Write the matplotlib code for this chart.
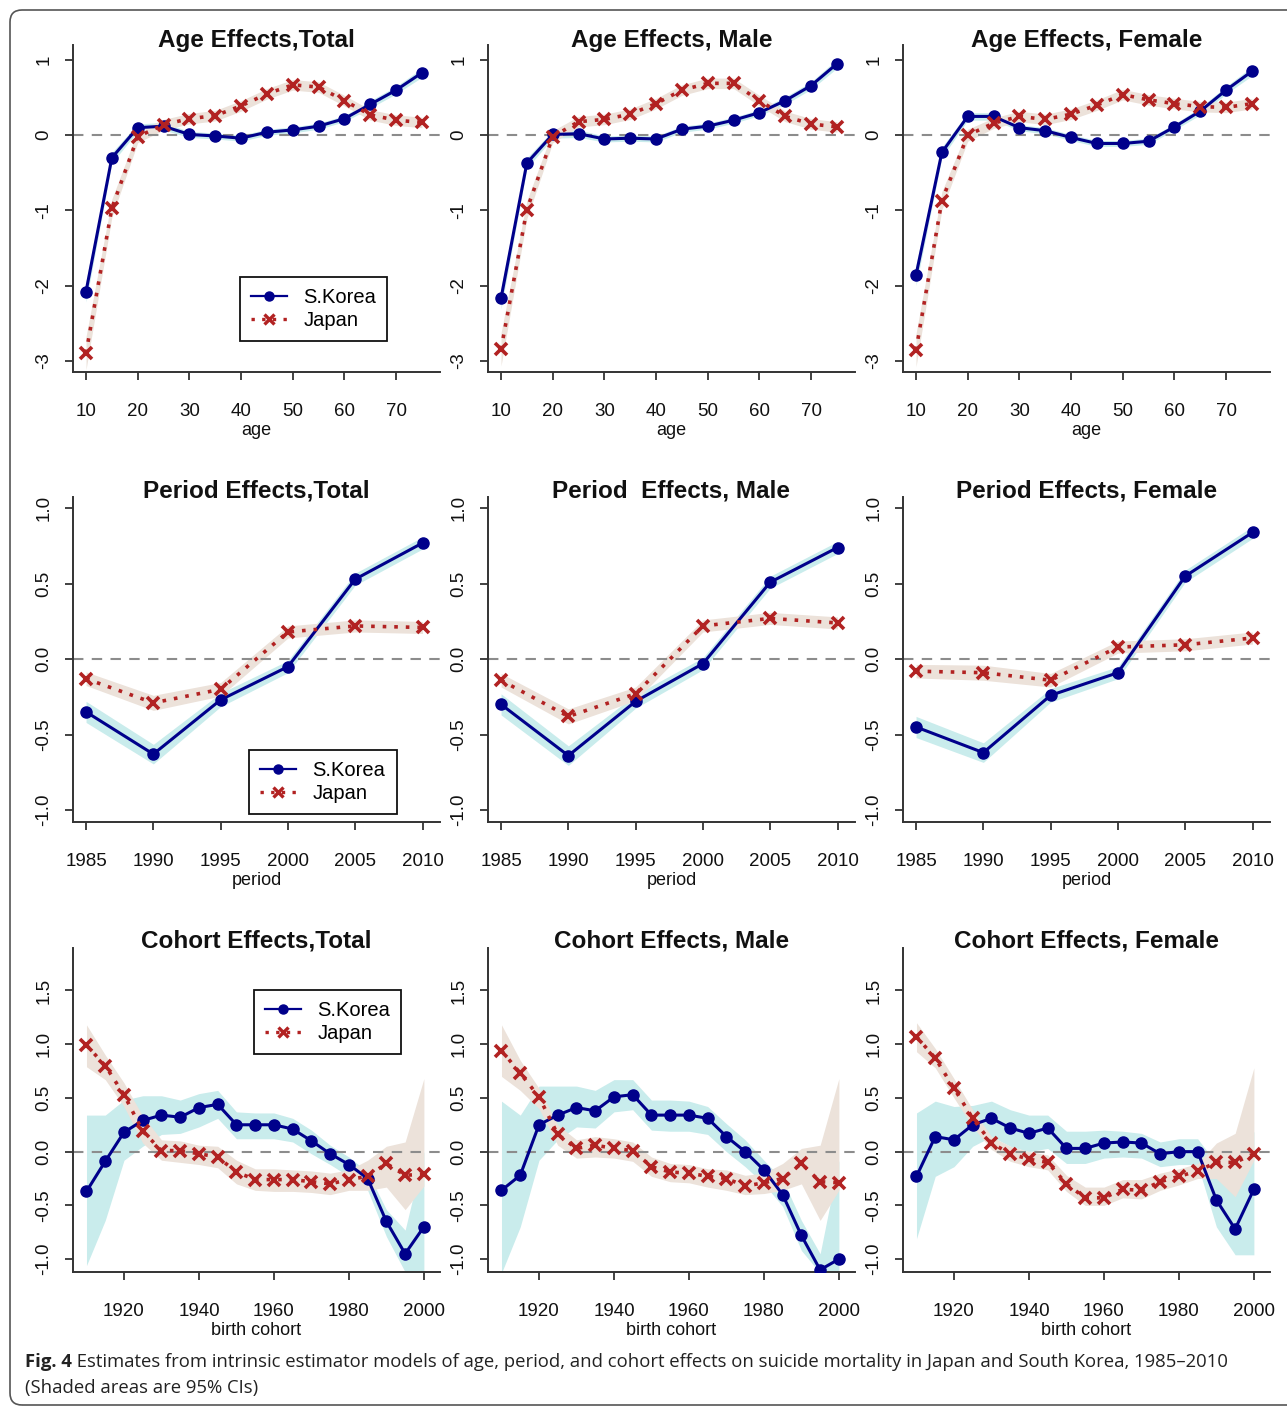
import matplotlib
matplotlib.use("Agg")
import matplotlib.pyplot as plt
from matplotlib.patches import FancyBboxPatch
from matplotlib.transforms import IdentityTransform
from matplotlib.lines import Line2D
import numpy as np

plt.rcParams['font.family'] = ['Liberation Sans', 'DejaVu Sans']
plt.rcParams['axes.unicode_minus'] = False

# ---------------- data ----------------
age = [10, 15, 20, 25, 30, 35, 40, 45, 50, 55, 60, 65, 70, 75]
age_total_kor = [-2.08, -0.30, 0.10, 0.12, 0.01, -0.01, -0.04, 0.04, 0.07, 0.12, 0.22, 0.41, 0.60, 0.83]
age_total_jpn = [-2.90, -0.97, -0.02, 0.14, 0.22, 0.26, 0.39, 0.55, 0.67, 0.64, 0.46, 0.27, 0.20, 0.17]
age_male_kor = [-2.17, -0.37, 0.01, 0.02, -0.05, -0.04, -0.05, 0.08, 0.12, 0.20, 0.30, 0.46, 0.66, 0.95]
age_male_jpn = [-2.85, -0.99, -0.02, 0.18, 0.21, 0.28, 0.42, 0.60, 0.69, 0.69, 0.46, 0.25, 0.15, 0.11]
age_female_kor = [-1.86, -0.23, 0.25, 0.25, 0.10, 0.06, -0.03, -0.11, -0.11, -0.08, 0.11, 0.32, 0.60, 0.85]
age_female_jpn = [-2.86, -0.87, 0.00, 0.16, 0.25, 0.21, 0.28, 0.40, 0.54, 0.47, 0.42, 0.38, 0.37, 0.42]
age_ci_kor = [0.14, 0.07, 0.05, 0.05, 0.04, 0.04, 0.04, 0.04, 0.04, 0.04, 0.04, 0.05, 0.05, 0.06]
age_ci_jpn = [0.22, 0.12, 0.08, 0.07, 0.07, 0.07, 0.07, 0.07, 0.07, 0.07, 0.07, 0.07, 0.07, 0.07]

period = [1985, 1990, 1995, 2000, 2005, 2010]
per_total_kor = [-0.35, -0.63, -0.27, -0.05, 0.53, 0.77]
per_total_jpn = [-0.13, -0.29, -0.20, 0.18, 0.22, 0.21]
per_male_kor = [-0.30, -0.64, -0.28, -0.03, 0.51, 0.74]
per_male_jpn = [-0.14, -0.38, -0.23, 0.22, 0.27, 0.24]
per_female_kor = [-0.45, -0.62, -0.24, -0.09, 0.55, 0.84]
per_female_jpn = [-0.08, -0.09, -0.14, 0.08, 0.095, 0.14]
per_ci_kor = [0.07, 0.065, 0.045, 0.04, 0.04, 0.04]
per_ci_jpn = [0.045, 0.05, 0.045, 0.04, 0.04, 0.04]

cohort = [1910, 1915, 1920, 1925, 1930, 1935, 1940, 1945, 1950, 1955,
          1960, 1965, 1970, 1975, 1980, 1985, 1990, 1995, 2000]
coh_total_kor = [-0.37, -0.09, 0.18, 0.29, 0.34, 0.32, 0.41, 0.44, 0.25, 0.25, 0.25, 0.21, 0.10, -0.02, -0.12, -0.25, -0.65, -0.95, -0.70]
coh_total_kor_lo = [-1.06, -0.64, -0.08, 0.05, 0.16, 0.17, 0.23, 0.31, 0.12, 0.12, 0.12, 0.09, -0.02, -0.12, -0.23, -0.36, -0.79, -1.12, -1.12]
coh_total_kor_hi = [0.34, 0.34, 0.48, 0.52, 0.52, 0.48, 0.54, 0.57, 0.37, 0.36, 0.36, 0.31, 0.20, 0.06, -0.05, -0.19, -0.54, -0.73, 0.00]
coh_total_jpn = [0.99, 0.80, 0.53, 0.19, 0.01, 0.01, -0.02, -0.05, -0.19, -0.26, -0.26, -0.26, -0.28, -0.30, -0.26, -0.23, -0.11, -0.22, -0.21]
coh_total_jpn_lo = [0.79, 0.67, 0.42, 0.08, -0.08, -0.10, -0.12, -0.15, -0.30, -0.36, -0.37, -0.37, -0.38, -0.40, -0.36, -0.36, -0.33, -0.54, -0.32]
coh_total_jpn_hi = [1.18, 0.90, 0.64, 0.33, 0.11, 0.10, 0.06, 0.05, -0.08, -0.16, -0.16, -0.17, -0.18, -0.20, -0.17, -0.08, 0.05, 0.09, 0.68]

coh_male_kor = [-0.36, -0.22, 0.25, 0.34, 0.41, 0.38, 0.51, 0.53, 0.34, 0.34, 0.34, 0.31, 0.14, 0.00, -0.17, -0.40, -0.78, -1.10, -1.00]
coh_male_kor_lo = [-1.13, -0.70, -0.08, 0.11, 0.23, 0.22, 0.37, 0.39, 0.20, 0.19, 0.19, 0.16, 0.00, -0.14, -0.30, -0.51, -0.92, -1.13, -1.13]
coh_male_kor_hi = [0.47, 0.34, 0.61, 0.61, 0.61, 0.57, 0.67, 0.67, 0.48, 0.48, 0.47, 0.42, 0.26, 0.11, -0.08, -0.26, -0.64, -0.95, -0.08]
coh_male_jpn = [0.94, 0.73, 0.51, 0.16, 0.03, 0.06, 0.03, 0.01, -0.14, -0.19, -0.20, -0.23, -0.25, -0.32, -0.29, -0.25, -0.11, -0.28, -0.29]
coh_male_jpn_lo = [0.70, 0.57, 0.40, 0.06, -0.06, -0.05, -0.06, -0.09, -0.23, -0.28, -0.29, -0.33, -0.36, -0.40, -0.39, -0.36, -0.30, -0.64, -0.36]
coh_male_jpn_hi = [1.18, 0.85, 0.59, 0.25, 0.11, 0.14, 0.12, 0.09, -0.05, -0.11, -0.12, -0.16, -0.17, -0.22, -0.20, -0.11, 0.03, 0.06, 0.68]

coh_female_kor = [-0.23, 0.14, 0.11, 0.25, 0.31, 0.22, 0.17, 0.22, 0.03, 0.03, 0.08, 0.09, 0.08, -0.02, 0.00, 0.00, -0.45, -0.72, -0.35]
coh_female_kor_lo = [-0.81, -0.23, -0.14, 0.05, 0.14, 0.05, 0.00, 0.03, -0.11, -0.11, -0.06, -0.05, -0.06, -0.14, -0.12, -0.12, -0.70, -0.96, -0.96]
coh_female_kor_hi = [0.36, 0.47, 0.42, 0.43, 0.47, 0.39, 0.34, 0.34, 0.19, 0.19, 0.20, 0.19, 0.17, 0.09, 0.12, 0.12, -0.11, -0.36, 0.19]
coh_female_jpn = [1.07, 0.87, 0.59, 0.31, 0.08, -0.02, -0.07, -0.10, -0.30, -0.43, -0.43, -0.35, -0.36, -0.28, -0.23, -0.18, -0.10, -0.10, -0.02]
coh_female_jpn_lo = [0.93, 0.78, 0.50, 0.23, 0.02, -0.09, -0.14, -0.17, -0.37, -0.50, -0.50, -0.43, -0.44, -0.36, -0.31, -0.25, -0.25, -0.42, -0.08]
coh_female_jpn_hi = [1.20, 0.96, 0.68, 0.39, 0.14, 0.05, 0.00, -0.03, -0.22, -0.33, -0.33, -0.26, -0.26, -0.20, -0.16, -0.11, 0.08, 0.17, 0.78]

titles = [["Age Effects,Total", "Age Effects, Male", "Age Effects, Female"],
          ["Period Effects,Total", "Period  Effects, Male", "Period Effects, Female"],
          ["Cohort Effects,Total", "Cohort Effects, Male", "Cohort Effects, Female"]]
xlabels = ["age", "period", "birth cohort"]
series_names = ["S.Korea", "Japan"]
caption_bold = "Fig. 4"
caption_rest = (" Estimates from intrinsic estimator models of age, period, and cohort effects "
                "on suicide mortality in Japan and South Korea, 1985\u20132010")
caption_line2 = "(Shaded areas are 95% CIs)"

# ---------------- style ----------------
KOR = '#00008B'
JPN = '#B22222'
KOR_BAND = '#c9ecec'
JPN_BAND = '#ece2da'

W, H = 1287, 1408
fig = plt.figure(figsize=(W / 100, H / 100), dpi=100)

col_px = [(73, 440), (488, 855), (903, 1270)]
row_px = [(45, 372), (497, 822), (948, 1272)]
title_y = [0.985, 0.989, 0.994]

row_cfg = [
    dict(xlim=(7.48, 78.5), ylim=(-3.15, 1.2), xticks=[10, 20, 30, 40, 50, 60, 70],
         yticks=[1, 0, -1, -2, -3], ylabels=["1", "0", "-1", "-2", "-3"]),
    dict(xlim=(1984.03, 2011.3), ylim=(-1.08, 1.075), xticks=period,
         yticks=[1.0, 0.5, 0.0, -0.5, -1.0], ylabels=["1.0", "0.5", "0.0", "-0.5", "-1.0"]),
    dict(xlim=(1906.4, 2004.3), ylim=(-1.12, 1.895), xticks=[1920, 1940, 1960, 1980, 2000],
         yticks=[1.5, 1.0, 0.5, 0.0, -0.5, -1.0], ylabels=["1.5", "1.0", "0.5", "0.0", "-0.5", "-1.0"]),
]

def sym_band(vals, hw):
    v = np.array(vals); h = np.array(hw)
    return v - h, v + h

panels = [
    [(age, age_total_kor, sym_band(age_total_kor, age_ci_kor), age_total_jpn, sym_band(age_total_jpn, age_ci_jpn)),
     (age, age_male_kor, sym_band(age_male_kor, age_ci_kor), age_male_jpn, sym_band(age_male_jpn, age_ci_jpn)),
     (age, age_female_kor, sym_band(age_female_kor, age_ci_kor), age_female_jpn, sym_band(age_female_jpn, age_ci_jpn))],
    [(period, per_total_kor, sym_band(per_total_kor, per_ci_kor), per_total_jpn, sym_band(per_total_jpn, per_ci_jpn)),
     (period, per_male_kor, sym_band(per_male_kor, per_ci_kor), per_male_jpn, sym_band(per_male_jpn, per_ci_jpn)),
     (period, per_female_kor, sym_band(per_female_kor, per_ci_kor), per_female_jpn, sym_band(per_female_jpn, per_ci_jpn))],
    [(cohort, coh_total_kor, (coh_total_kor_lo, coh_total_kor_hi), coh_total_jpn, (coh_total_jpn_lo, coh_total_jpn_hi)),
     (cohort, coh_male_kor, (coh_male_kor_lo, coh_male_kor_hi), coh_male_jpn, (coh_male_jpn_lo, coh_male_jpn_hi)),
     (cohort, coh_female_kor, (coh_female_kor_lo, coh_female_kor_hi), coh_female_jpn, (coh_female_jpn_lo, coh_female_jpn_hi))],
]

legend_pos = {(0, 0): (0.455, 0.29), (1, 0): (0.48, 0.222), (2, 0): (0.493, 0.87)}

for r in range(3):
    cfg = row_cfg[r]
    top, bot = row_px[r]
    for c in range(3):
        left, right = col_px[c]
        ax = fig.add_axes([left / W, 1 - bot / H, (right - left) / W, (bot - top) / H])
        x, kor, kor_ci, jpn, jpn_ci = panels[r][c]
        ax.fill_between(x, kor_ci[0], kor_ci[1], color=KOR_BAND, lw=0, zorder=1)
        ax.fill_between(x, jpn_ci[0], jpn_ci[1], color=JPN_BAND, lw=0, zorder=1.1)
        ax.axhline(0, color='#8c8c8c', lw=1.5, dashes=(5, 4), zorder=1.5)
        ax.plot(x, kor, color=KOR, lw=2.2, marker='o', ms=8, zorder=3, label=series_names[0])
        ax.plot(x, jpn, color=JPN, lw=2.6, dashes=(1, 2.2), marker='x', ms=8, mew=2.6,
                zorder=3.2, label=series_names[1])
        ax.set_xlim(*cfg['xlim'])
        ax.set_ylim(*cfg['ylim'])
        ax.set_xticks(cfg['xticks'])
        ax.set_xticklabels([str(t) for t in cfg['xticks']])
        ax.set_yticks(cfg['yticks'])
        ax.set_yticklabels(cfg['ylabels'], rotation=90, va='center')
        for s in ['top', 'right']:
            ax.spines[s].set_visible(False)
        for s in ['left', 'bottom']:
            ax.spines[s].set_linewidth(1.4)
            ax.spines[s].set_color('#333333')
        ax.tick_params(axis='both', direction='out', length=6, width=1.3, color='#333333',
                       labelsize=13.5, labelcolor='#111111')
        ax.tick_params(axis='x', pad=16.5)
        ax.tick_params(axis='y', pad=9)
        ax.set_title(titles[r][c], fontsize=17.5, fontweight='bold', pad=2,
                     y=title_y[r], color='#111111')
        ax.set_xlabel(xlabels[r], fontsize=13, labelpad=1, color='#111111')
        if (r, c) in legend_pos:
            handles = [Line2D([], [], color=KOR, lw=1.6, marker='o', ms=6.5),
                       Line2D([], [], color=JPN, lw=2.4, dashes=(1, 2.2), marker='x', ms=7, mew=2.4)]
            leg = ax.legend(handles, series_names, loc='upper left',
                            bbox_to_anchor=legend_pos[(r, c)], borderaxespad=0,
                            fancybox=False, framealpha=1, edgecolor='#111111',
                            fontsize=14.5, handlelength=1.8, handletextpad=0.8,
                            borderpad=0.55, labelspacing=0.2)
            leg.get_frame().set_linewidth(1.3)
            leg.set_zorder(5)

# outer rounded border
border = FancyBboxPatch((10, 3), 1300, 1395, boxstyle='round,pad=0,rounding_size=12',
                        transform=IdentityTransform(), fill=False, lw=1.2, ec='#555555')
fig.add_artist(border)

# caption
cap_font = ['Open Sans', 'DejaVu Sans']
t1 = fig.text(25 / W, 1 - 1362 / H, caption_bold, fontsize=13.3, fontweight='bold',
              family=cap_font, va='center', ha='left', color='#222222')
fig.canvas.draw()
bb = t1.get_window_extent()
fig.text(bb.x1 / W, 1 - 1362 / H, caption_rest, fontsize=13.3, family=cap_font,
         va='center', ha='left', color='#222222')
fig.text(25 / W, 1 - 1388 / H, caption_line2, fontsize=13.3, family=cap_font,
         va='center', ha='left', color='#222222')

fig.savefig('out.png', dpi=100)
